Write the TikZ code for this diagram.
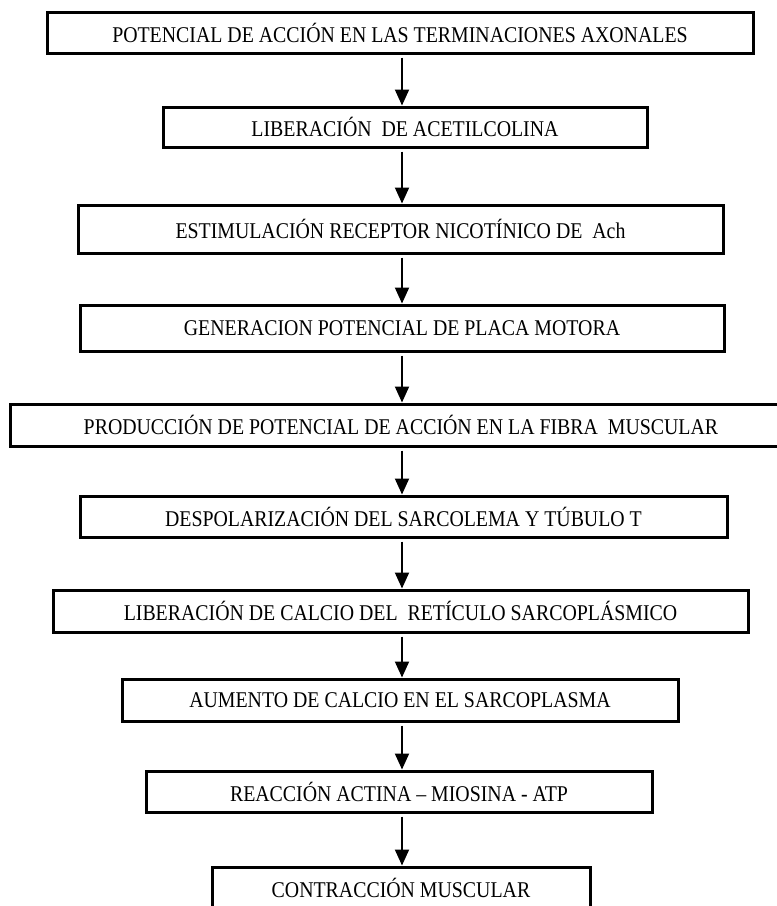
\documentclass[tikz,border=0pt]{standalone}
\usepackage{fontspec}
\setmainfont{Liberation Serif}[FakeStretch=0.882]
\usetikzlibrary{arrows.meta}
\begin{document}
\begin{tikzpicture}[x=1pt,y=-1pt,
  stepbox/.style={draw=black, line width=3pt, rectangle, inner sep=0pt,
    font=\fontsize{22.5}{25}\selectfont, text=black},
  flow/.style={line width=2pt, -{Triangle[width=14pt,length=16pt]}, shorten <=3pt}]
\useasboundingbox (0,0) rectangle (777,906);
\fill[white] (0,0) rectangle (777,906);
\coordinate (ax) at (402,0);
\node[stepbox, minimum width=706pt, minimum height=41pt] (b1) at (400,32.5) {POTENCIAL DE ACCIÓN EN LAS TERMINACIONES AXONALES};
\node[stepbox, minimum width=484pt, minimum height=40pt] (b2) at (405,127) {LIBERACIÓN\ \ DE ACETILCOLINA};
\node[stepbox, minimum width=645pt, minimum height=48pt] (b3) at (400.5,229) {ESTIMULACIÓN RECEPTOR NICOTÍNICO DE\ \ Ach};
\node[stepbox, minimum width=644pt, minimum height=46pt] (b4) at (402,328) {GENERACION POTENCIAL DE PLACA MOTORA};
\node[stepbox, minimum width=782pt, minimum height=42pt] (b5) at (401,425) {PRODUCCIÓN DE POTENCIAL DE ACCIÓN EN LA FIBRA\ \ MUSCULAR};
\node[stepbox, minimum width=647pt, minimum height=41pt] (b6) at (403.5,516.5) {DESPOLARIZACIÓN DEL SARCOLEMA Y TÚBULO T};
\node[stepbox, minimum width=695pt, minimum height=42pt] (b7) at (400.5,611) {LIBERACIÓN DE CALCIO DEL\ \ RETÍCULO SARCOPLÁSMICO};
\node[stepbox, minimum width=556pt, minimum height=42pt] (b8) at (400,700) {AUMENTO DE CALCIO EN EL SARCOPLASMA};
\node[stepbox, minimum width=506pt, minimum height=41pt] (b9) at (399,791.5) {REACCIÓN ACTINA – MIOSINA - ATP};
\node[stepbox, minimum width=378pt, minimum height=42pt] (b10) at (401,888) {CONTRACCIÓN MUSCULAR};
\foreach \a/\b in {b1/b2,b2/b3,b3/b4,b4/b5,b5/b6,b6/b7,b7/b8,b8/b9,b9/b10}
  \draw[flow] (\a.south -| ax) -- (\b.north -| ax);
\end{tikzpicture}
\end{document}
